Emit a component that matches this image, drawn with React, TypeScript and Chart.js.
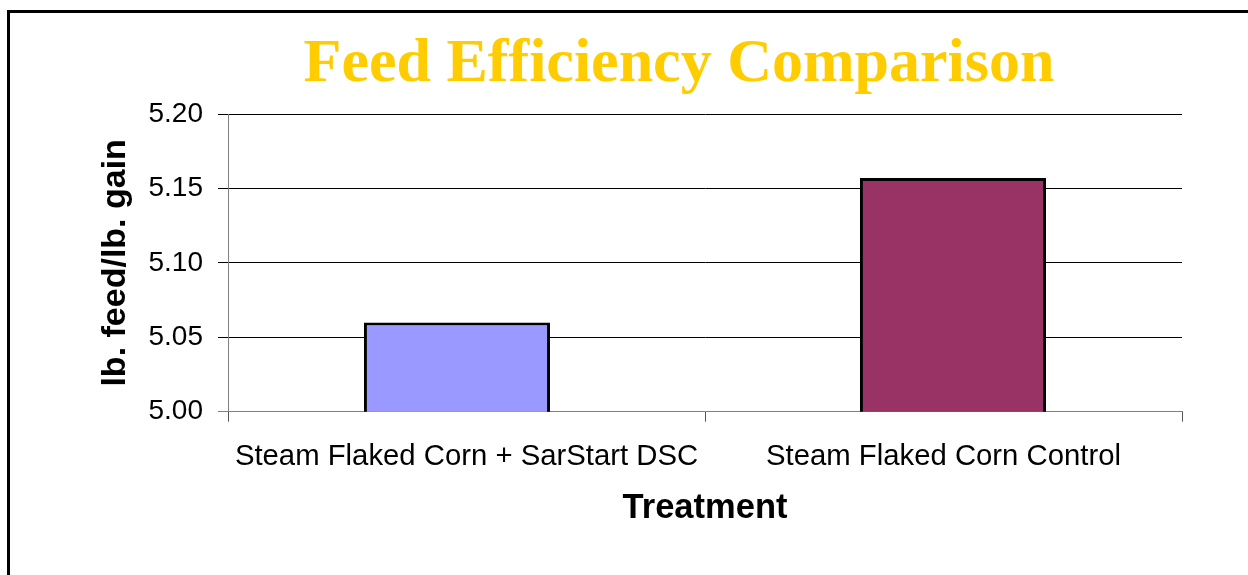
import React, { useEffect, useRef } from 'react';
import { Chart, registerables } from 'chart.js';

Chart.register(...registerables);

const categories = ['Steam Flaked Corn + SarStart DSC', 'Steam Flaked Corn Control'];
const sarStartValues = [5.06, null];
const controlValues = [null, 5.157];
const seriesColors = ['#9999FF', '#993366'];
const yTickValues = [5.0, 5.05, 5.1, 5.15, 5.2];
const chartTitle = 'Feed Efficiency Comparison';
const xTitle = 'Treatment';
const yTitle = 'lb. feed/lb. gain';

const W = 1248;
const H = 575;
const SANS = '"Liberation Sans", Arial, sans-serif';
const SERIF = '"Liberation Serif", "Times New Roman", serif';

const framePlugin = {
  id: 'frame',
  afterDraw(chart: any) {
    const ctx = chart.ctx;
    ctx.save();
    ctx.strokeStyle = '#000';
    ctx.lineWidth = 3;
    ctx.beginPath();
    ctx.moveTo(8.5, H);
    ctx.lineTo(8.5, 11.5);
    ctx.lineTo(W, 11.5);
    ctx.stroke();
    // chart title, centred over the whole figure
    ctx.fillStyle = '#FFCC00';
    ctx.font = `bold 62px ${SERIF}`;
    ctx.textAlign = 'center';
    ctx.textBaseline = 'alphabetic';
    ctx.fillText(chartTitle, 679, 81);
    ctx.restore();
  },
};

export default function App() {
  const ref = useRef<HTMLCanvasElement>(null);

  useEffect(() => {
    if (!ref.current) return;
    const chart = new Chart(ref.current, {
      type: 'bar',
      data: {
        labels: categories,
        datasets: [
          {
            label: 'SarStart',
            data: sarStartValues as any,
            backgroundColor: seriesColors[0],
            borderColor: '#000',
            borderWidth: 3,
          },
          {
            label: 'Control',
            data: controlValues as any,
            backgroundColor: seriesColors[1],
            borderColor: '#000',
            borderWidth: 3,
          },
        ],
      },
      options: {
        responsive: false,
        animation: false,
        datasets: {
          bar: {
            categoryPercentage: 0.0797,
            barPercentage: 9.79,
          },
        },
        layout: { padding: { left: 0, right: 66, top: 114, bottom: 0 } },
        plugins: {
          legend: { display: false },
          tooltip: { enabled: false },
          title: { display: false },
        },
        scales: {
          x: {
            grid: {
              drawOnChartArea: false,
              drawTicks: true,
              tickLength: 10,
              color: '#555',
              offset: true,
            },
            border: { color: '#808080' },
            ticks: {
              color: '#000',
              font: { family: SANS, size: 29.3 },
              padding: 18,
              maxRotation: 0,
              autoSkip: false,
            },
            title: {
              display: true,
              text: xTitle,
              color: '#000',
              font: { family: SANS, size: 34.5, weight: 'bold' },
              padding: { top: 0, bottom: 46 },
            },
            afterFit: (s: any) => {
              s.height = 163.3;
            },
          },
          y: {
            min: 5.0,
            max: 5.2,
            afterBuildTicks: (s: any) => {
              s.ticks = yTickValues.map((v) => ({ value: v }));
            },
            ticks: {
              color: '#000',
              font: { family: SANS, size: 28 },
              padding: 15,
              callback: (v: any) => Number(v).toFixed(2),
            },
            grid: {
              color: (c: any) => (c.tick && c.tick.value === 5 ? '#808080' : '#000'),
              tickLength: 10,
              lineWidth: 1,
            },
            border: { color: '#808080' },
            title: {
              display: true,
              text: yTitle,
              color: '#000',
              font: { family: SANS, size: 34, weight: 'bold' },
              padding: { top: 95, bottom: 0 },
            },
            afterFit: (s: any) => {
              s.width = 228;
            },
          },
        },
      } as any,
      plugins: [framePlugin],
    });
    return () => chart.destroy();
  }, []);

  return (
    <div style={{ position: 'fixed', left: 0, top: 0, width: W, height: H, background: '#fff' }}>
      <canvas ref={ref} width={W} height={H} style={{ width: W, height: H, display: 'block' }} />
    </div>
  );
}
